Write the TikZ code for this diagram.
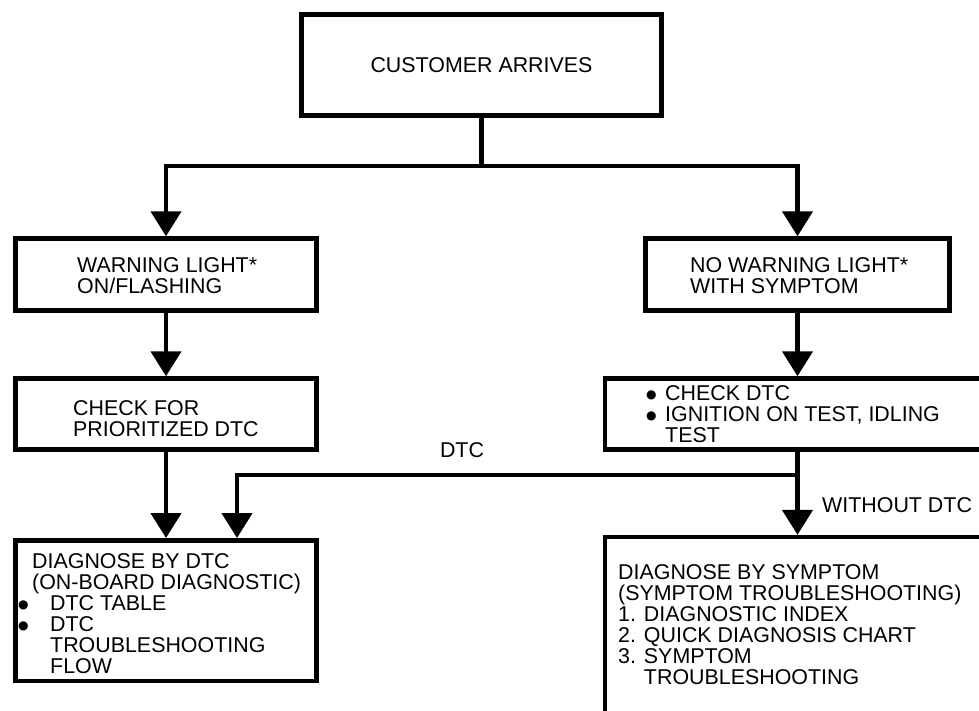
\documentclass[tikz,border=0pt]{standalone}
\usepackage{fontspec}
\setmainfont{Liberation Sans}
\newfontfamily\symf{DejaVu Sans}
\usetikzlibrary{arrows.meta}
\newcommand\fs{\fontsize{21.4}{21}\selectfont}
\newcommand\bul{\smash{\raisebox{2.5pt}{\symf\fontsize{12}{12}\selectfont ●}}}
\tikzset{
  box/.style={draw, rectangle, line width=4.5pt, inner sep=0pt},
  conn/.style={line width=4.5pt},
  arr/.style={conn, -{Triangle[width=30pt,length=25pt]}},
  txt/.style={inner sep=0pt, align=left, font=\fs, anchor=north west},
  lbl/.style={inner sep=0pt, font=\fs},
}
\begin{document}
\begin{tikzpicture}[x=1pt,y=-1pt]
\useasboundingbox (0,0) rectangle (979,710);
\clip (0,0) rectangle (979,710);
% boxes
\node[box, minimum width=360pt, minimum height=101pt, font=\fs] (top) at (481.5,65) {CUSTOMER ARRIVES};
\node[box, minimum width=301pt, minimum height=72pt] (warn) at (166,274.5) {};
\node[box, minimum width=304pt, minimum height=72pt] (nowarn) at (797.5,274.5) {};
\node[box, minimum width=301pt, minimum height=71pt] (check) at (166,414) {};
\node[box, minimum width=395pt, minimum height=71pt] (checkdtc) at (802.6,414) {};
\node[box, minimum width=301pt, minimum height=140.5pt] (diagdtc) at (166,610.5) {};
\node[box, minimum width=395pt, minimum height=183pt] (diagsym) at (802.6,628.6) {};
% texts
\node[txt] (twarn) at (77,257.4) {WARNING LIGHT*\\ON/FLASHING};
\node[txt] (tnowarn) at (690,257.4) {NO WARNING LIGHT*\\WITH SYMPTOM};
\node[txt] (tcheck) at (73,400.4) {CHECK FOR\\PRIORITIZED DTC};
\node[txt] (tcheckdtc) at (646,385.4) {\makebox[19pt][l]{\bul}CHECK DTC\\
  \makebox[19pt][l]{\bul}IGNITION ON TEST, IDLING\\
  \hspace*{19pt}TEST};
\node[txt] (tdiagdtc) at (18,553.4) {\hspace*{14pt}DIAGNOSE BY DTC\\
  \hspace*{14pt}(ON-BOARD DIAGNOSTIC)\\
  \makebox[32pt][l]{\bul}DTC TABLE\\
  \makebox[32pt][l]{\bul}DTC\\
  \hspace*{32pt}TROUBLESHOOTING\\
  \hspace*{32pt}FLOW};
\node[txt] (tdiagsym) at (618,564.4) {DIAGNOSE BY SYMPTOM\\
  (SYMPTOM TROUBLESHOOTING)\\
  1. DIAGNOSTIC INDEX\\
  2. QUICK DIAGNOSIS CHART\\
  3. SYMPTOM\\
  \phantom{3. }TROUBLESHOOTING};
% connectors
\coordinate (j1) at (481.5,166);
\draw[conn] (top.south) -- (j1);
\draw[arr] (j1) -| (warn.north);
\draw[arr] (j1) -| (nowarn.north);
\draw[arr] (warn.south) -- (check.north);
\draw[arr] (nowarn.south) -- (checkdtc.north -| nowarn.south);
\draw[arr] (check.south) -- (diagdtc.north);
\draw[arr] (checkdtc.south -| nowarn.south) -- (diagsym.north -| nowarn.south);
\coordinate (j2) at (797.5,475);
\draw[arr] (j2) -| ([xshift=71pt]diagdtc.north);
% labels
\node[lbl] (ldtc) at (462,450) {DTC};
\node[lbl, anchor=west] (lwo) at (822,505) {WITHOUT DTC};
\end{tikzpicture}
\end{document}
